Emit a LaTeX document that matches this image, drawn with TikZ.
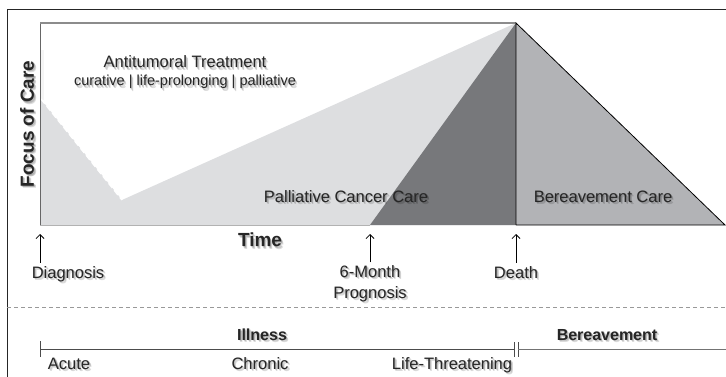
\documentclass[tikz,border=0pt]{standalone}
\usepackage{fontspec}
\setmainfont{Liberation Sans}
\usetikzlibrary{arrows.meta}
\definecolor{lightcare}{HTML}{DDDEE0}
\definecolor{midcare}{HTML}{B2B3B6}
\definecolor{darkcare}{HTML}{77787B}

% text with a soft grey shadow below right
\newcommand\shlabel[4][]{%
  \foreach \s in {1,2,3}
    \node[lbl,#1,text=black,text opacity=0.14] at ([shift={(0.7*\s,0.7*\s)}]#3) {#4};
  \node[lbl,#1] (#2) at (#3) {#4};}

\begin{document}
\begin{tikzpicture}[x=1pt,y=-1pt,
  lbl/.style={anchor=base,inner sep=0pt,text=black!85,align=center,
    font=\fontsize{16.5}{20.5}\selectfont},
  small/.style={font=\fontsize{14.5}{17}\selectfont},
  axis/.style={font=\fontsize{19}{22}\selectfont\bfseries},
  phase/.style={font=\fontsize{16}{19}\selectfont\bfseries},
  event/.style={-{Straight Barb[length=4pt,width=8pt]},line width=0.8pt}]
\useasboundingbox (0,0) rectangle (726,377);
\draw[line width=0.9pt,black!85] (7,380) -- (7,9) -- (729,9);

% care areas
\fill[black!4] (40,50) rectangle (44,100);
\fill[lightcare] (40,98) -- (122,200) -- (516,23) -- (516,225) -- (40,225) -- cycle;
\draw[white,line width=1.4pt,dash pattern=on 6pt off 3pt] (41,99) -- (122,200);
\fill[darkcare] (370,225) -- (516,23) -- (516,225) -- cycle;
\fill[midcare] (516,23) -- (725,225) -- (516,225) -- cycle;
\draw[line width=0.8pt,black!60] (40,225) -- (40,23);
\draw[line width=1.4pt,black!45] (40,23) -- (516,23);
\draw[line width=0.8pt,black!30] (40,225) -- (370,225);
\draw[line width=0.8pt] (516,225) -- (516,23) -- (725,225) -- (516,225);

\shlabel{treat}{185,68}{Antitumoral Treatment}
\shlabel[small]{aims}{185,86}{curative | life-prolonging | palliative}
\shlabel{palcare}{346,202}{Palliative Cancer Care}
\shlabel{bercare}{603,202}{Bereavement Care}
\shlabel[axis,rotate=90]{focus}{34,124}{Focus of Care}
\shlabel[axis]{time}{260,247}{Time}

% events on the time axis
\coordinate (diagtip) at (40,234);
\coordinate (progtip) at (370,234);
\coordinate (deathtip) at (516,234);
\shlabel{diag}{68,278}{Diagnosis}
\shlabel{prog}{370,298}{6-Month\\Prognosis}
\shlabel{death}{516,278}{Death}
\draw[event] ([yshift=3pt]diag.north -| diagtip) -- (diagtip);
\draw[event] ([yshift=3pt]prog.north) -- (progtip);
\draw[event] ([yshift=3pt]death.north) -- (deathtip);

\draw[black!40,line width=0.8pt,dash pattern=on 4pt off 3pt] (7,307) -- (729,307);

% phases
\shlabel[phase]{ill}{262,340}{Illness}
\shlabel[phase]{ber}{607,340}{Bereavement}
\draw[line width=0.8pt,black!70] (40,341) -- (40,357);
\draw[line width=0.8pt,black!70] (40,349) -- (514,349);
\draw[line width=0.8pt,black!70] (514,342) -- (514,357);
\draw[line width=0.8pt,black!70] (518,342) -- (518,357);
\draw[line width=0.8pt,black!55] (518,349) -- (729,349);
\shlabel{acute}{69,369}{Acute}
\shlabel{chron}{260,369}{Chronic}
\shlabel{threat}{452,369}{Life-Threatening}
\end{tikzpicture}
\end{document}
